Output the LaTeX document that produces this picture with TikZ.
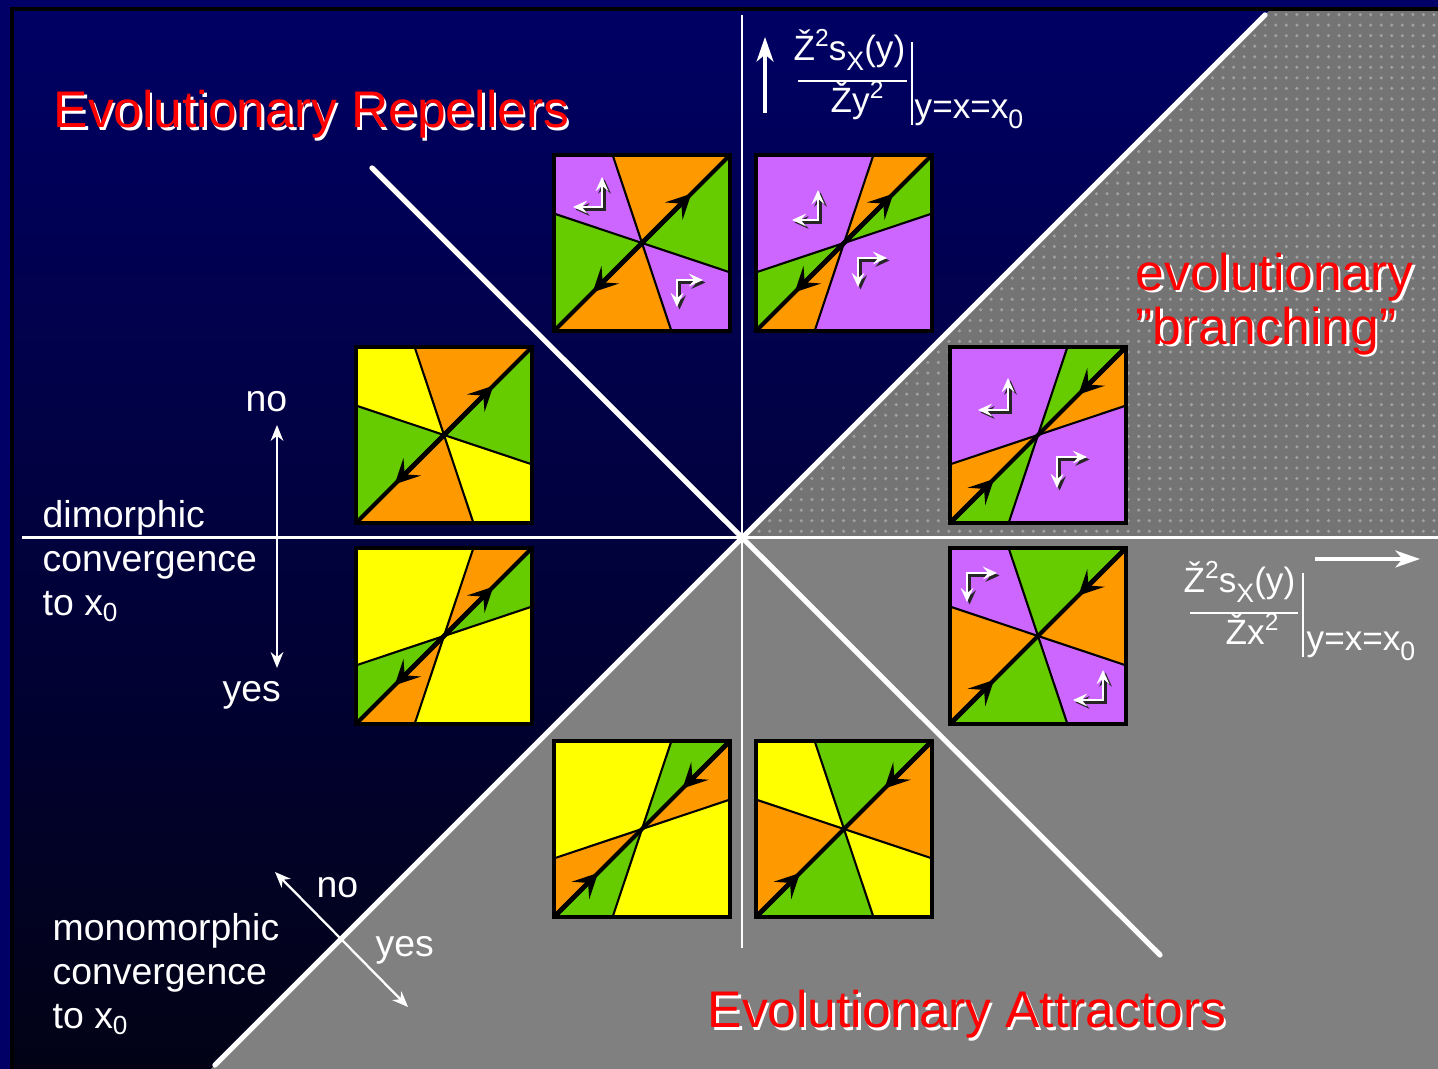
\documentclass[tikz,border=0pt]{standalone}
\usepackage{fontspec}
\setmainfont{Liberation Sans}
\usetikzlibrary{arrows.meta,patterns}

\definecolor{navyband}{RGB}{0,0,102}
\definecolor{bgtop}{RGB}{0,0,100}
\definecolor{bgbot}{RGB}{2,2,22}
\definecolor{grayup}{RGB}{116,116,116}
\definecolor{graydot}{RGB}{160,160,160}
\definecolor{graylow}{RGB}{128,128,128}
\definecolor{purp}{RGB}{204,102,255}
\definecolor{orng}{RGB}{255,153,0}
\definecolor{grn}{RGB}{102,204,0}
\definecolor{yell}{RGB}{255,255,0}
\definecolor{titlered}{RGB}{255,0,0}

\tikzset{
  sepline/.style={black, line width=0.6pt},
  diagline/.style={black, line width=1.2pt},
  diagtip/.style={black, line width=1.4pt, -{Stealth[length=7pt,width=7pt,inset=3pt]}},
  boxline/.style={black, line width=1.2pt},
  larrow/.style={white, line width=0.6pt, {Stealth[length=4pt,width=3.6pt,inset=1.5pt]}-{Stealth[length=4pt,width=3.6pt,inset=1.5pt]}},
  lshadow/.style={black!85, line width=0.6pt, {Stealth[length=4pt,width=3.6pt,inset=1.5pt]}-{Stealth[length=4pt,width=3.6pt,inset=1.5pt]}},
  bigdiag/.style={white, line width=1.5pt, line cap=round},
  axisline/.style={white, line width=0.85pt},
  midline/.style={white, line width=0.6pt},
  fracbar/.style={white, line width=0.55pt},
  biarrow/.style={white, line width=0.65pt, {Stealth[length=4.5pt,width=3.6pt,inset=1.4pt]}-{Stealth[length=4.5pt,width=3.6pt,inset=1.4pt]}},
  dirarrow/.style={white, line width=1pt, -{Stealth[length=7pt,width=4.8pt,inset=2pt]}},
  title/.style={titlered, font=\fontsize{14.66}{14.2}\selectfont, inner sep=0pt},
  label/.style={white, font=\fontsize{10.64}{12.5}\selectfont, inner sep=0pt},
  mathlbl/.style={white, font=\fontsize{10}{11}\selectfont, inner sep=0pt},
}

\newcommand{\shadowed}[1]{\rlap{\textcolor{white}{\hspace{0.7pt}\raisebox{-0.7pt}{#1}}}#1}
\newcommand{\upidx}[1]{\raisebox{0.8ex}{\fontsize{7}{7}\selectfont #1}}
\newcommand{\dnidx}[1]{\raisebox{-0.5ex}{\fontsize{7.6}{7.6}\selectfont #1}}

% one phase plot: name, lower left x, y, split p, colours, diagonal tips
\newcommand{\phasebox}[8]{%
  \begin{scope}[shift={(#2,#3)}, x=1.76cm, y=1.76cm]
    \coordinate (#1) at (0.5,0.5);
    \fill[#5] (0,1) -- (#4,1) -- (#1) -- (0,1-#4) -- cycle;
    \fill[#6] (#4,1) -- (1,1) -- (#1) -- cycle;
    \fill[#7] (1,1) -- (1,#4) -- (#1) -- cycle;
    \fill[#5] (1,#4) -- (1,0) -- (1-#4,0) -- (#1) -- cycle;
    \fill[#6] (1-#4,0) -- (0,0) -- (#1) -- cycle;
    \fill[#7] (0,0) -- (0,1-#4) -- (#1) -- cycle;
    \draw[sepline] (#4,1) -- (1-#4,0);
    \draw[sepline] (0,1-#4) -- (1,#4);
    \draw[diagline] (0,0) -- (1,1);
    \foreach \s/\e in {#8} \draw[diagtip] (\s,\s) -- (\e,\e);
    \draw[boxline] (0,0) rectangle (1,1);
  \end{scope}}

% white corner arrow with its shadow
\newcommand{\lmark}[3]{%
  \draw[lshadow] ([shift={(0.025,-0.025)}]#1) -- ([shift={(0.025,-0.025)}]#2) -- ([shift={(0.025,-0.025)}]#3);
  \draw[larrow] (#1) -- (#2) -- (#3);}

\begin{document}
\begin{tikzpicture}
  \useasboundingbox (0,0) rectangle (14.38,10.69);
  \clip (0,0) rectangle (14.38,10.69);

  % background and frame
  \fill[navyband] (0,0) rectangle (14.38,10.69);
  \shade[top color=bgtop, bottom color=bgbot] (0.12,0) rectangle (14.38,10.60);
  \fill[grayup] (7.42,5.31) -- (12.71,10.60) -- (14.38,10.60) -- (14.38,5.31) -- cycle;
  \fill[pattern=dots, pattern color=graydot] (7.42,5.31) -- (12.71,10.60) -- (14.38,10.60) -- (14.38,5.31) -- cycle;
  \fill[graylow] (7.42,5.31) -- (14.38,5.31) -- (14.38,0) -- (2.11,0) -- cycle;
  \draw[black, line width=0.9pt] (0.12,-0.1) -- (0.12,10.60) -- (14.5,10.60);

  % axes
  \draw[axisline] (0.22,5.31) -- (14.38,5.31);
  \draw[midline] (7.42,10.54) -- (7.42,1.21);
  \draw[bigdiag] (2.15,0.04) -- (12.65,10.54);
  \draw[bigdiag] (3.72,9.01) -- (11.60,1.14);

  % phase plots
  \phasebox{sqa}{5.54}{7.38}{0.333}{purp}{orng}{grn}{0.5/0.78,0.5/0.22}
  \phasebox{sqb}{7.56}{7.38}{0.667}{purp}{orng}{grn}{0.5/0.78,0.5/0.22}
  \phasebox{sqc}{3.56}{5.46}{0.333}{yell}{orng}{grn}{0.5/0.78,0.5/0.22}
  \phasebox{sqd}{3.56}{3.45}{0.667}{yell}{orng}{grn}{0.5/0.78,0.5/0.22}
  \phasebox{sqe}{9.50}{5.46}{0.667}{purp}{grn}{orng}{1/0.73,0/0.25}
  \phasebox{sqf}{9.50}{3.45}{0.333}{purp}{grn}{orng}{1/0.73,0/0.25}
  \phasebox{sqg}{5.54}{1.52}{0.667}{yell}{grn}{orng}{1/0.73,0/0.25}
  \phasebox{sqh}{7.56}{1.52}{0.333}{yell}{grn}{orng}{1/0.73,0/0.25}

  \lmark{5.73,8.62}{6.02,8.62}{6.02,8.92}
  \lmark{7.03,7.89}{6.77,7.89}{6.77,7.62}
  \lmark{7.92,8.49}{8.18,8.49}{8.18,8.79}
  \lmark{8.87,8.11}{8.58,8.11}{8.58,7.82}
  \lmark{9.78,6.59}{10.08,6.59}{10.08,6.91}
  \lmark{10.87,6.12}{10.57,6.12}{10.57,5.81}
  \lmark{9.97,4.96}{9.67,4.96}{9.67,4.67}
  \lmark{10.73,3.69}{11.03,3.69}{11.03,3.99}

  % titles
  \node[title, anchor=base west] (repel) at (0.53,9.41) {\shadowed{Evolutionary Repellers}};
  \node[title, anchor=north west, align=left] (branch) at (11.35,8.17) {\shadowed{evolutionary}\\\shadowed{"branching"}};
  \node[title, anchor=base west] (attract) at (7.07,0.41) {\shadowed{Evolutionary Attractors}};

  % convergence labels
  \node[label, anchor=north west, align=left] (dimo) at (0.42,5.69) {dimorphic\\convergence\\to x\textsubscript{0}};
  \node[label, anchor=north west, align=left] (mono) at (0.52,1.56) {monomorphic\\convergence\\to x\textsubscript{0}};
  \node[label, anchor=base west] (dimno) at (2.45,6.57) {no};
  \node[label, anchor=base west] (dimyes) at (2.22,3.67) {yes};
  \node[label, anchor=base west] (monono) at (3.16,1.71) {no};
  \node[label, anchor=base west] (monoyes) at (3.75,1.12) {yes};
  \coordinate (dimtop) at (2.77,6.44);
  \coordinate (dimbot) at (2.77,4.01);
  \coordinate (monotop) at (2.75,1.97);
  \coordinate (monobot) at (4.08,0.62);
  \draw[biarrow] (dimtop) -- (dimbot);
  \draw[biarrow] (monotop) -- (monobot);

  % derivative labels
  \node[mathlbl, anchor=base west] (numy) at (7.93,10.08) {Ž\upidx{2}s\dnidx{X}(y)};
  \node[mathlbl, anchor=base west] (deny) at (8.30,9.56) {Žy\upidx{2}};
  \node[mathlbl, anchor=base west] (evaly) at (9.14,9.50) {y=x=x\dnidx{0}};
  \draw[fracbar] (7.98,9.88) -- (9.07,9.88);
  \draw[fracbar] (9.12,10.27) -- (9.12,9.44);
  \coordinate (ytail) at (7.65,9.56);
  \coordinate (yhead) at (7.65,10.32);
  \draw[dirarrow] (ytail) -- (yhead);

  \node[mathlbl, anchor=base west] (numx) at (11.83,4.76) {Ž\upidx{2}s\dnidx{X}(y)};
  \node[mathlbl, anchor=base west] (denx) at (12.25,4.24) {Žx\upidx{2}};
  \node[mathlbl, anchor=base west] (evalx) at (13.06,4.18) {y=x=x\dnidx{0}};
  \draw[fracbar] (11.90,4.56) -- (12.98,4.56);
  \draw[fracbar] (13.03,4.96) -- (13.03,4.12);
  \coordinate (xtail) at (13.15,5.10);
  \coordinate (xhead) at (14.20,5.10);
  \draw[dirarrow] (xtail) -- (xhead);
\end{tikzpicture}
\end{document}
